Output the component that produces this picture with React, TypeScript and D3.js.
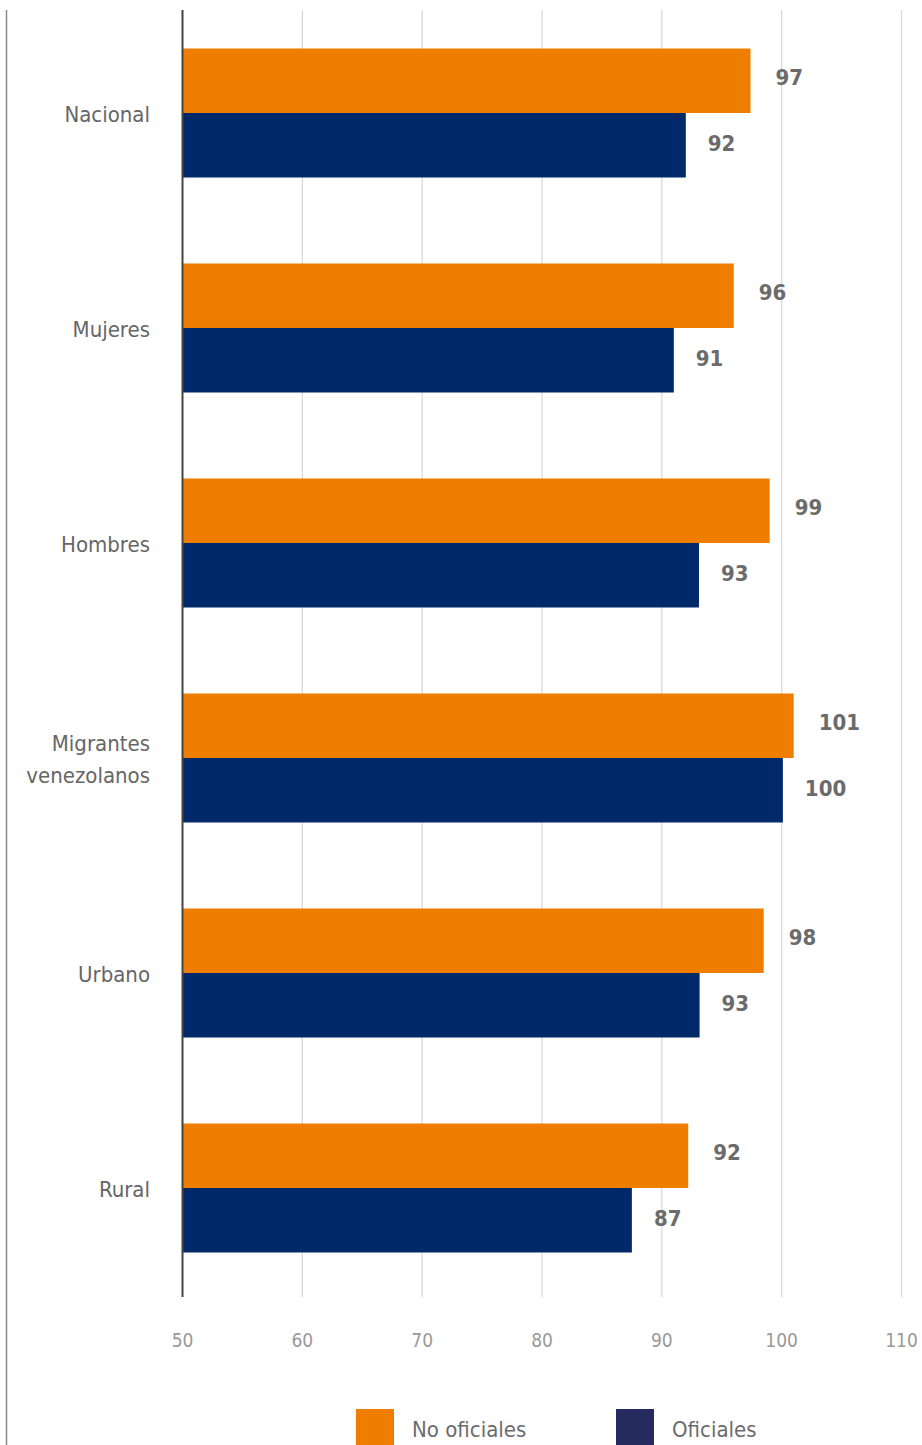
import React from "react";
import * as d3 from "d3";

const categories = ["Nacional", "Mujeres", "Hombres", "Migrantes venezolanos", "Urbano", "Rural"];
const categoryLines = [["Nacional"], ["Mujeres"], ["Hombres"], ["Migrantes", "venezolanos"], ["Urbano"], ["Rural"]];
const noOficiales = [97.4, 96.0, 99.0, 101.0, 98.5, 92.2];
const oficiales = [92.0, 91.0, 93.1, 100.1, 93.15, 87.5];
const noOficialesLabels = ["97", "96", "99", "101", "98", "92"];
const oficialesLabels = ["92", "91", "93", "100", "93", "87"];
const xTicks = [50, 60, 70, 80, 90, 100, 110];
const seriesNames = ["No oficiales", "Oficiales"];

const ORANGE = "#ef7d00";
const NAVY = "#00296a";
const LEGEND_NAVY = "#252a5f";
const FONT = "'DejaVu Sans Condensed', 'DejaVu Sans', sans-serif";

export default function App() {
  const W = 922, H = 1445;
  const x = d3.scaleLinear().domain([50, 110]).range([182.5, 901.5]);
  const y = d3.scaleBand<string>().domain(categories).range([5.5, 1295.5]).paddingInner(0.4).paddingOuter(0.2);
  const sub = d3.scaleBand<string>().domain(seriesNames).range([0, y.bandwidth()]);
  const top = 10, bottom = 1297;

  return (
    <svg width={W} height={H} style={{ position: "absolute", left: 0, top: 0, background: "#fff" }} fontFamily={FONT}>
      <line x1={6.5} x2={6.5} y1={10} y2={H} stroke="#8a8a8a" strokeWidth={1.5} />
      {xTicks.slice(1).map((t) => (
        <line key={t} x1={x(t)} x2={x(t)} y1={top} y2={bottom} stroke="#d9d9d9" strokeWidth={1.3} />
      ))}
      {categories.map((c, i) => {
        const y0 = y(c)!;
        return (
          <g key={c}>
            <rect x={x(50)} y={y0 + sub("No oficiales")!} width={x(noOficiales[i]) - x(50)} height={sub.bandwidth()} fill={ORANGE} />
            <rect x={x(50)} y={y0 + sub("Oficiales")!} width={x(oficiales[i]) - x(50)} height={sub.bandwidth()} fill={NAVY} />
            <text x={x(noOficiales[i]) + 25} y={y0 + sub("No oficiales")! + sub.bandwidth() / 2 - 3} dy="0.35em" fontSize={22} fontWeight="bold" fill="#6b6b6b">{noOficialesLabels[i]}</text>
            <text x={x(oficiales[i]) + 22} y={y0 + sub("Oficiales")! + sub.bandwidth() / 2 - 2} dy="0.35em" fontSize={22} fontWeight="bold" fill="#6b6b6b">{oficialesLabels[i]}</text>
            {categoryLines[i].map((ln, j) => (
              <text key={j} x={150} y={y0 + y.bandwidth() / 2 + 1 + (j - (categoryLines[i].length - 1) / 2) * 32} dy="0.35em" textAnchor="end" fontSize={22} fill="#666">{ln}</text>
            ))}
          </g>
        );
      })}
      <line x1={182.5} x2={182.5} y1={top} y2={bottom} stroke="#444" strokeWidth={2} />
      {xTicks.map((t) => (
        <text key={t} x={x(t)} y={1340} dy="0.35em" textAnchor="middle" fontSize={19} fill="#999">{t}</text>
      ))}
      <rect x={356} y={1409} width={38} height={40} fill={ORANGE} />
      <text x={412} y={1429} dy="0.35em" fontSize={22} fill="#6b6b6b">{seriesNames[0]}</text>
      <rect x={616} y={1409} width={38} height={40} fill={LEGEND_NAVY} />
      <text x={672} y={1429} dy="0.35em" fontSize={22} fill="#6b6b6b">{seriesNames[1]}</text>
    </svg>
  );
}
